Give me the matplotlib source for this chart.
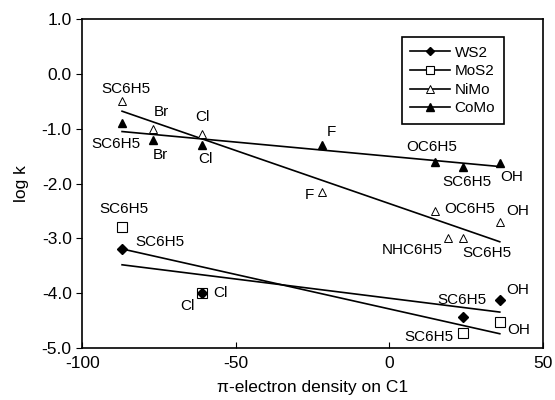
import numpy as np
import matplotlib
matplotlib.use("Agg")
import matplotlib.pyplot as plt
from matplotlib.lines import Line2D

plt.rcParams["font.family"] = ["Liberation Sans", "DejaVu Sans"]
plt.rcParams["axes.unicode_minus"] = False

# pi-electron density on C1 vs log k, per catalyst
ws2_x = [-87, -61, 24, 36]
ws2_y = [-3.2, -4.0, -4.43, -4.12]
ws2_labels = ["SC6H5", "Cl", "SC6H5", "OH"]

mos2_x = [-87, -61, 24, 36]
mos2_y = [-2.8, -4.0, -4.72, -4.52]
mos2_labels = ["SC6H5", "Cl", "SC6H5", "OH"]

nimo_x = [-87, -77, -61, -22, 15, 36, 19, 24]
nimo_y = [-0.5, -1.0, -1.1, -2.15, -2.5, -2.7, -3.0, -3.0]
nimo_labels = ["SC6H5", "Br", "Cl", "F", "OC6H5", "OH", "NHC6H5", "SC6H5"]

como_x = [-87, -77, -61, -22, 15, 24, 36]
como_y = [-0.9, -1.2, -1.3, -1.3, -1.6, -1.7, -1.62]
como_labels = ["SC6H5", "Br", "Cl", "F", "OC6H5", "SC6H5", "OH"]

x_ticks = [-100, -50, 0, 50]
y_ticks = [1.0, 0.0, -1.0, -2.0, -3.0, -4.0, -5.0]

# label offsets in pixels from each marker
ws2_off = [(38, 7), (19, 0), (-1, 17), (18, 10)]
mos2_off = [(2, 18), (-14, -13), (-34, -4), (19, -8)]
nimo_off = [(4, 12), (9, 17), (1, 17), (-12, -3), (34, 2), (18, 11), (-35, -12), (24, -15)]
como_off = [(-6, -21), (8, -15), (4, -14), (10, 13), (-4, 15), (4, -15), (12, -14)]

series = [
    ("WS2", ws2_x, ws2_y, ws2_labels, ws2_off, dict(marker="D", mfc="black", ms=5), 5),
    ("MoS2", mos2_x, mos2_y, mos2_labels, mos2_off, dict(marker="s", mfc="white", ms=6.5, mew=0.8), 3),
    ("NiMo", nimo_x, nimo_y, nimo_labels, nimo_off, dict(marker="^", mfc="white", ms=6, mew=0.7), 3),
    ("CoMo", como_x, como_y, como_labels, como_off, dict(marker="^", mfc="black", ms=6), 3),
]

fig = plt.figure(figsize=(5.55, 4.0), dpi=100)
ax = fig.add_axes([0.148, 0.13, 0.83, 0.822])

handles = []
for name, xs, ys, labels, offs, mk, z in series:
    xs = np.array(xs, dtype=float)
    ys = np.array(ys, dtype=float)
    # least-squares trend line over the data range
    slope, icpt = np.polyfit(xs, ys, 1)
    xl = np.array([xs.min(), xs.max()])
    ax.plot(xl, slope * xl + icpt, color="black", lw=1.2, zorder=2)
    ax.plot(xs, ys, ls="none", color="black", mec="black", zorder=z, **mk)
    for x, y, lab, (dx, dy) in zip(xs, ys, labels, offs):
        ax.annotate(lab, (x, y), xytext=(dx, dy), textcoords="offset pixels",
                    ha="center", va="center", fontsize=11)
    hk = dict(mk)
    hk["ms"] = mk["ms"] * 0.85
    handles.append(Line2D([], [], color="black", lw=1.2, mec="black", label=name, **hk))

ax.set_xlim(-100, 50)
ax.set_ylim(-5.0, 1.0)
ax.set_xticks(x_ticks)
ax.set_yticks(y_ticks)
ax.set_yticklabels([f"{v:.1f}" for v in y_ticks])
ax.tick_params(axis="x", direction="in", length=4, labelsize=12.5, pad=6)
ax.tick_params(axis="y", direction="out", length=4, labelsize=12.5)
for s in ax.spines.values():
    s.set_linewidth(1.2)

ax.set_xlabel("π-electron density on C1", fontsize=12.5, labelpad=6)
ax.set_ylabel("log k", fontsize=12.5, labelpad=9)

leg = ax.legend(handles=handles, loc="upper right", bbox_to_anchor=(0.915, 0.945),
                borderaxespad=0, fontsize=11, handlelength=2.6, labelspacing=0.3,
                fancybox=False, framealpha=1, edgecolor="black", borderpad=0.55,
                handletextpad=0.3)
leg.get_frame().set_linewidth(1.2)

fig.savefig("out.png", dpi=100)
